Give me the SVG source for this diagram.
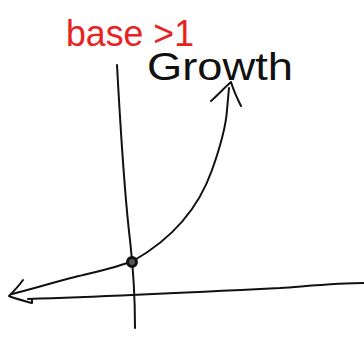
<svg xmlns="http://www.w3.org/2000/svg" width="364" height="338" viewBox="0 0 364 338">
<style>
.ink{fill:none;stroke:#111;stroke-width:2;stroke-linecap:round;stroke-linejoin:round}
.hand{font-family:"Liberation Sans",Arial,sans-serif}
</style>
<rect width="364" height="338" fill="#fff"/>
<text class="hand" x="66" y="46" font-size="36" fill="#e8231f" textLength="128" lengthAdjust="spacingAndGlyphs">base &gt;1</text>
<text class="hand" x="147" y="80" font-size="38" fill="#111" textLength="146" lengthAdjust="spacingAndGlyphs">Growth</text>
<path class="ink" d="M117,65 C120,120 124,190 130,240 C134,275 135,305 135,328"/>
<path class="ink" d="M28,299 C120,296 200,292 280,288 C320,285 340,283 364,283"/>
<path class="ink" d="M133,261 C170,240 198,210 212,170 C222,142 226,125 227,110 L229,88"/>
<path class="ink" d="M211,101 C218,95 224,88 231,82 C234,92 238,100 241,106"/>
<path class="ink" d="M133,261 C115,268 95,272 75,277 C55,282 35,288 12,294"/>
<path class="ink" d="M23,280 C18,287 13,292 9,296 C16,299 25,301 32,303 L32,300"/>
<circle cx="132" cy="262" r="4.5" fill="#555" stroke="#111" stroke-width="3"/>
</svg>
